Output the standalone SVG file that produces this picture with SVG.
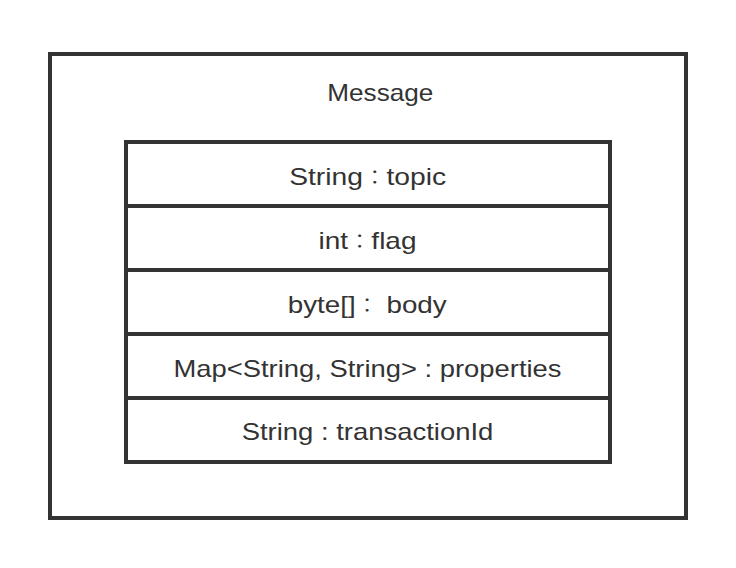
<svg xmlns="http://www.w3.org/2000/svg" width="736" height="568" viewBox="0 0 736 568">
<style>
.box{fill:#ffffff;stroke:#333333;stroke-width:4}
.line{stroke:#333333;stroke-width:4;fill:none}
.t{font-family:"Liberation Sans","Noto Sans CJK TC",sans-serif;font-size:24px;fill:#333333;text-anchor:middle}
.c{font-family:"Noto Sans CJK TC","Noto Sans CJK SC",sans-serif;font-size:20px;font-weight:300}
</style>
<rect width="736" height="568" fill="#ffffff"/>
<g id="message">
<rect class="box" x="50" y="54" width="636" height="464"/>
<text class="t" x="380.3" y="101" textLength="106" lengthAdjust="spacingAndGlyphs">Message</text>
</g>
<g id="fields">
<rect class="box" x="126" y="142" width="484" height="320"/>
</g>
<g id="connectors">
<line class="line" x1="126" y1="206" x2="610" y2="206"/>
<line class="line" x1="126" y1="270" x2="610" y2="270"/>
<line class="line" x1="126" y1="334" x2="610" y2="334"/>
<line class="line" x1="126" y1="398" x2="610" y2="398"/>
</g>
<g id="field-topic">
<text class="t" x="367.7" y="185" textLength="157" lengthAdjust="spacingAndGlyphs">String<tspan class="c">：</tspan>topic</text>
</g>
<g id="field-flag">
<text class="t" x="367.5" y="249" textLength="98" lengthAdjust="spacingAndGlyphs">int<tspan class="c">：</tspan>flag</text>
</g>
<g id="field-body">
<text class="t" x="367.2" y="313" textLength="159" lengthAdjust="spacingAndGlyphs">byte[]<tspan class="c">：</tspan> body</text>
</g>
<g id="field-properties">
<text class="t" x="367.5" y="377" textLength="388" lengthAdjust="spacingAndGlyphs">Map&lt;String, String&gt; : properties</text>
</g>
<g id="field-transactionId">
<text class="t" x="367.5" y="440" textLength="251.7" lengthAdjust="spacingAndGlyphs">String : transactionId</text>
</g>
</svg>
